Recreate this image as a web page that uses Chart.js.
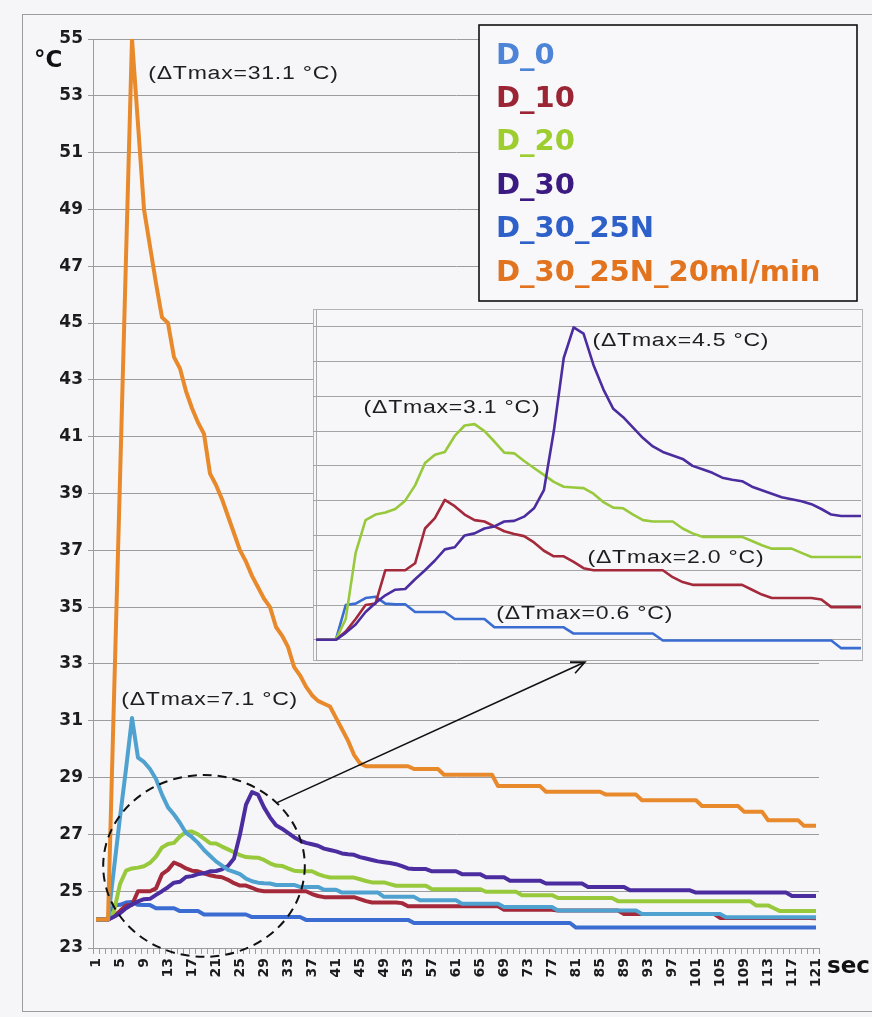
<!DOCTYPE html>
<html>
<head>
<meta charset="utf-8">
<script src="https://cdn.jsdelivr.net/npm/chart.js@4.4.1/dist/chart.umd.min.js"></script>
<style>
  html, body { margin: 0; padding: 0; background: #f6f6f8; }
  #wrap { position: relative; width: 872px; height: 1017px; overflow: hidden; }
  #frame { position: absolute; left: 22px; top: 14px; width: 900px; height: 998px; border: 1px solid #9c9c9c; box-sizing: border-box; }
  #main { position: absolute; left: 0; top: 0; }
  #insetBox { position: absolute; left: 313px; top: 309px; width: 550px; height: 352px; background: #f7f7f9; border: 1px solid #b4b4b4; box-sizing: border-box; }
  #inset { position: absolute; left: 313px; top: 309px; }
</style>
</head>
<body>
<div id="wrap">
  <div id="frame"></div>
  <canvas id="main" width="872" height="1017"></canvas>
  <div id="insetBox"></div>
  <canvas id="inset" width="550" height="352"></canvas>
</div>
<script>
// seconds 1..121
const seconds = Array.from({ length: 121 }, (_, k) => String(k + 1));

const seriesNames = ['D_0', 'D_10', 'D_20', 'D_30', 'D_30_25N', 'D_30_25N_20ml/min'];

const d0 = [
  24.0, 24.0, 24.0, 24.5, 24.52, 24.6, 24.62, 24.52, 24.51, 24.51,
  24.4, 24.4, 24.4, 24.4, 24.3, 24.3, 24.3, 24.3, 24.18, 24.18,
  24.18, 24.18, 24.18, 24.18, 24.18, 24.18, 24.09, 24.09, 24.09, 24.09,
  24.09, 24.09, 24.09, 24.09, 24.09, 23.99, 23.99, 23.99, 23.99, 23.99,
  23.99, 23.99, 23.99, 23.99, 23.99, 23.99, 23.99, 23.99, 23.99, 23.99,
  23.99, 23.99, 23.99, 23.88, 23.88, 23.88, 23.88, 23.88, 23.88, 23.88,
  23.88, 23.88, 23.88, 23.88, 23.88, 23.88, 23.88, 23.88, 23.88, 23.88,
  23.88, 23.88, 23.88, 23.88, 23.88, 23.88, 23.88, 23.88, 23.88, 23.88,
  23.72, 23.72, 23.72, 23.72, 23.72, 23.72, 23.72, 23.72, 23.72, 23.72,
  23.72, 23.72, 23.72, 23.72, 23.72, 23.72, 23.72, 23.72, 23.72, 23.72,
  23.72, 23.72, 23.72, 23.72, 23.72, 23.72, 23.72, 23.72, 23.72, 23.72,
  23.72, 23.72, 23.72, 23.72, 23.72, 23.72, 23.72, 23.72, 23.72, 23.72,
  23.72
];

const d10 = [
  24.0, 24.0, 24.0, 24.12, 24.3, 24.5, 24.52, 25.0, 25.0, 25.0,
  25.1, 25.6, 25.75, 26.01, 25.92, 25.8, 25.72, 25.7, 25.63, 25.56,
  25.52, 25.49, 25.4, 25.28, 25.2, 25.2, 25.12, 25.03, 25.0, 25.0,
  25.0, 25.0, 25.0, 25.0, 25.0, 25.0, 24.9, 24.83, 24.79, 24.79,
  24.79, 24.79, 24.79, 24.79, 24.72, 24.65, 24.6, 24.6, 24.6, 24.6,
  24.6, 24.58, 24.47, 24.47, 24.47, 24.47, 24.47, 24.47, 24.47, 24.47,
  24.47, 24.47, 24.47, 24.47, 24.47, 24.47, 24.47, 24.47, 24.35, 24.35,
  24.35, 24.35, 24.35, 24.35, 24.35, 24.35, 24.35, 24.32, 24.32, 24.32,
  24.32, 24.32, 24.32, 24.32, 24.32, 24.32, 24.32, 24.32, 24.2, 24.2,
  24.2, 24.2, 24.2, 24.2, 24.2, 24.2, 24.2, 24.2, 24.2, 24.2,
  24.2, 24.2, 24.2, 24.2, 24.06, 24.06, 24.06, 24.06, 24.06, 24.06,
  24.06, 24.06, 24.06, 24.06, 24.06, 24.06, 24.06, 24.06, 24.06, 24.06,
  24.05
];

const d20 = [
  24.0, 24.0, 24.0, 24.3, 25.25, 25.72, 25.8, 25.83, 25.88, 26.0,
  26.22, 26.54, 26.66, 26.7, 26.93, 27.08, 27.1, 27.0, 26.85, 26.69,
  26.68, 26.57, 26.47, 26.37, 26.27, 26.2, 26.19, 26.18, 26.1, 25.98,
  25.9, 25.89, 25.8, 25.72, 25.7, 25.7, 25.7, 25.6, 25.53, 25.48,
  25.48, 25.48, 25.48, 25.48, 25.42, 25.36, 25.31, 25.31, 25.31, 25.25,
  25.19, 25.19, 25.19, 25.19, 25.19, 25.19, 25.07, 25.07, 25.07, 25.07,
  25.07, 25.07, 25.07, 25.07, 25.07, 24.98, 24.98, 24.98, 24.98, 24.98,
  24.98, 24.86, 24.86, 24.86, 24.86, 24.86, 24.86, 24.76, 24.76, 24.76,
  24.76, 24.76, 24.76, 24.76, 24.76, 24.76, 24.76, 24.65, 24.65, 24.65,
  24.65, 24.65, 24.65, 24.65, 24.65, 24.65, 24.65, 24.65, 24.65, 24.65,
  24.65, 24.65, 24.65, 24.65, 24.65, 24.65, 24.65, 24.65, 24.65, 24.65,
  24.5, 24.5, 24.5, 24.4, 24.3, 24.3, 24.3, 24.3, 24.3, 24.3,
  24.3
];

const d30 = [
  24.0, 24.0, 24.0, 24.1, 24.22, 24.4, 24.53, 24.64, 24.72, 24.73,
  24.87, 25.0, 25.14, 25.3, 25.33, 25.5, 25.53, 25.6, 25.63, 25.7,
  25.71, 25.77, 25.89, 26.15, 27.0, 28.05, 28.49, 28.4, 27.95, 27.6,
  27.32, 27.2, 27.05, 26.9, 26.78, 26.7, 26.65, 26.6, 26.5, 26.45,
  26.4, 26.33, 26.3, 26.28, 26.2, 26.15, 26.1, 26.05, 26.02, 25.99,
  25.95, 25.88, 25.8, 25.78, 25.78, 25.78, 25.7, 25.7, 25.7, 25.7,
  25.7, 25.6, 25.6, 25.6, 25.6, 25.49, 25.49, 25.49, 25.49, 25.37,
  25.37, 25.37, 25.37, 25.37, 25.37, 25.27, 25.27, 25.27, 25.27, 25.27,
  25.27, 25.27, 25.15, 25.15, 25.15, 25.15, 25.15, 25.15, 25.15, 25.03,
  25.03, 25.03, 25.03, 25.03, 25.03, 25.03, 25.03, 25.03, 25.03, 25.03,
  24.95, 24.95, 24.95, 24.95, 24.95, 24.95, 24.95, 24.95, 24.95, 24.95,
  24.95, 24.95, 24.95, 24.95, 24.95, 24.95, 24.83, 24.83, 24.83, 24.83,
  24.83
];

const d30n = [
  24.0, 24.0, 24.0, 25.8, 27.6, 29.3, 31.1, 29.7, 29.55, 29.3,
  28.95, 28.4, 27.95, 27.7, 27.4, 27.05, 26.9, 26.7, 26.45, 26.25,
  26.05, 25.9, 25.75, 25.68, 25.6, 25.44, 25.35, 25.3, 25.28, 25.27,
  25.22, 25.22, 25.22, 25.22, 25.15, 25.15, 25.15, 25.15, 25.05, 25.05,
  25.05, 24.95, 24.95, 24.95, 24.95, 24.95, 24.95, 24.95, 24.8, 24.8,
  24.8, 24.8, 24.8, 24.8, 24.68, 24.68, 24.68, 24.68, 24.68, 24.68,
  24.68, 24.56, 24.56, 24.56, 24.56, 24.56, 24.56, 24.56, 24.44, 24.44,
  24.44, 24.44, 24.44, 24.44, 24.44, 24.44, 24.44, 24.32, 24.32, 24.32,
  24.32, 24.32, 24.32, 24.32, 24.32, 24.32, 24.32, 24.32, 24.32, 24.32,
  24.32, 24.2, 24.2, 24.2, 24.2, 24.2, 24.2, 24.2, 24.2, 24.2,
  24.2, 24.2, 24.2, 24.2, 24.2, 24.08, 24.08, 24.08, 24.08, 24.08,
  24.08, 24.08, 24.08, 24.08, 24.08, 24.08, 24.08, 24.08, 24.08, 24.08,
  24.08
];

const d30nFlow = [
  24.0, 24.0, 24.0, 31.8, 39.5, 47.3, 55.0, 52.0, 49.0, 47.7,
  46.4, 45.2, 45.0, 43.8, 43.4, 42.6, 42.0, 41.5, 41.1, 39.7,
  39.3, 38.8, 38.2, 37.6, 37.0, 36.6, 36.1, 35.7, 35.3, 35.0,
  34.3, 34.0, 33.6, 32.9, 32.6, 32.2, 31.9, 31.7, 31.6, 31.5,
  31.1, 30.7, 30.3, 29.8, 29.5, 29.4, 29.4, 29.4, 29.4, 29.4,
  29.4, 29.4, 29.4, 29.3, 29.3, 29.3, 29.3, 29.3, 29.1, 29.1,
  29.1, 29.1, 29.1, 29.1, 29.1, 29.1, 29.1, 28.7, 28.7, 28.7,
  28.7, 28.7, 28.7, 28.7, 28.7, 28.5, 28.5, 28.5, 28.5, 28.5,
  28.5, 28.5, 28.5, 28.5, 28.5, 28.4, 28.4, 28.4, 28.4, 28.4,
  28.4, 28.2, 28.2, 28.2, 28.2, 28.2, 28.2, 28.2, 28.2, 28.2,
  28.2, 28.0, 28.0, 28.0, 28.0, 28.0, 28.0, 28.0, 27.8, 27.8,
  27.8, 27.8, 27.5, 27.5, 27.5, 27.5, 27.5, 27.5, 27.3, 27.3,
  27.3
];

// zoomed inset: first 56 seconds, y gridlines every 0.5 °C
const insetLength = 56;
const insetTicks = [24, 24.5, 25, 25.5, 26, 26.5, 27, 27.5, 28, 28.5];

const mainNotes = [
  { text: '(ΔTmax=31.1 °C)', x: 9.7, y: 53.75 },
  { text: '(ΔTmax=7.1 °C)', x: 5.2, y: 31.73 }
];
const insetNotes = [
  { text: '(ΔTmax=4.5 °C)', x: 28.9, y: 28.3 },
  { text: '(ΔTmax=3.1 °C)', x: 5.8, y: 27.33 },
  { text: '(ΔTmax=2.0 °C)', x: 28.4, y: 25.18 },
  { text: '(ΔTmax=0.6 °C)', x: 19.2, y: 24.37 }
];

const allSeries = [d0, d10, d20, d30, d30n, d30nFlow];
const lineColors = ['#3b6cd2', '#a3293b', '#98c93c', '#4b2d9f', '#4fa1d0', '#e8892c'];
const legendColors = ['#4d84d8', '#9b2535', '#9dcd2e', '#3b1b82', '#2e60c9', '#e2731f'];

Chart.defaults.font.family = 'DejaVu Sans, sans-serif';

// annotation text, a bit wider than the normal face, like the scanned original
function drawNote(ctx, text, x, y) {
  const sx = 1.28;
  ctx.save();
  ctx.font = '18px "Liberation Sans"';
  ctx.letterSpacing = '0.6px';
  ctx.fillStyle = '#1e1e1e';
  ctx.textAlign = 'left';
  ctx.textBaseline = 'middle';
  ctx.scale(sx, 1);
  ctx.fillText(text, x / sx, y);
  ctx.restore();
}

const mainDecor = {
  id: 'mainDecor',
  afterDatasetsDraw(chart) {
    const { ctx, chartArea: a, scales: { x, y } } = chart;
    const px = i => x.getPixelForValue(i - 1);

    // dashed circle around the start of the curves
    const cx = px(19), cy = y.getPixelForValue(25.89);
    const rx = px(19 + 16.8) - cx, ry = y.getPixelForValue(25.89 - 3.2) - cy;
    ctx.save();
    ctx.strokeStyle = '#111';
    ctx.lineWidth = 2;
    ctx.setLineDash([9, 6]);
    ctx.beginPath();
    ctx.ellipse(cx, cy, rx, ry, 0, 0, Math.PI * 2);
    ctx.stroke();
    ctx.restore();

    // arrow pointing to the inset
    const x1 = px(31), y1 = y.getPixelForValue(28.1);
    const x2 = px(82.5), y2 = y.getPixelForValue(33.07);
    const ang = Math.atan2(y2 - y1, x2 - x1);
    ctx.save();
    ctx.strokeStyle = '#111';
    ctx.lineWidth = 1.6;
    ctx.beginPath();
    ctx.moveTo(x1, y1);
    ctx.lineTo(x2, y2);
    ctx.moveTo(x2 - 15 * Math.cos(ang - 0.42), y2 - 15 * Math.sin(ang - 0.42));
    ctx.lineTo(x2, y2);
    ctx.lineTo(x2 - 15 * Math.cos(ang + 0.42), y2 - 15 * Math.sin(ang + 0.42));
    ctx.stroke();
    ctx.restore();

    mainNotes.forEach(n => drawNote(ctx, n.text, px(n.x), y.getPixelForValue(n.y)));

    // axis unit labels
    ctx.save();
    ctx.fillStyle = '#111';
    ctx.font = 'bold 23px "DejaVu Sans"';
    ctx.textBaseline = 'middle';
    ctx.fillText('°C', a.left - 59, a.top + 22);
    ctx.font = 'bold 23px "DejaVu Sans"';
    ctx.fillText('sec', a.right + 8, a.bottom + 19);
    ctx.restore();
  },
  afterDraw(chart) {
    const { ctx, chartArea: a } = chart;
    const left = a.right - 340, top = a.top - 14, w = 378, h = 276;
    ctx.save();
    ctx.fillStyle = '#f8f8fa';
    ctx.fillRect(left, top, w, h);
    ctx.strokeStyle = '#111';
    ctx.lineWidth = 1.6;
    ctx.strokeRect(left, top, w, h);
    ctx.font = 'bold 29px "DejaVu Sans"';
    ctx.textBaseline = 'middle';
    chart.data.datasets.forEach((ds, k) => {
      ctx.fillStyle = legendColors[k];
      ctx.fillText(ds.label, left + 17, top + 31 + k * 43.4);
    });
    ctx.restore();
  }
};

new Chart(document.getElementById('main'), {
  type: 'line',
  data: {
    labels: seconds,
    datasets: allSeries.map((data, k) => ({
      label: seriesNames[k],
      data: data,
      borderColor: lineColors[k],
      backgroundColor: lineColors[k],
      borderWidth: 4,
      borderJoinStyle: 'round',
      pointRadius: 0,
      tension: 0,
      fill: false,
      order: allSeries.length - k
    }))
  },
  options: {
    responsive: false,
    animation: false,
    events: [],
    layout: { padding: { left: 22, top: 39, right: 53, bottom: 0 } },
    plugins: { legend: { display: false }, tooltip: { enabled: false } },
    scales: {
      x: {
        offset: true,
        grid: { drawOnChartArea: false, drawTicks: true, tickLength: 6, color: '#9c9c9c', offset: true },
        border: { color: '#9c9c9c' },
        ticks: {
          autoSkip: false, minRotation: 90, maxRotation: 90, padding: 4,
          color: '#1c1c1c', font: { size: 14, weight: 'bold' },
          callback: function (val, idx) { return idx % 4 === 0 ? this.getLabelForValue(val) : ''; }
        },
        afterFit: s => { s.height = 69; }
      },
      y: {
        min: 23, max: 55,
        grid: { color: '#9c9c9c', tickLength: 5 },
        border: { color: '#9c9c9c' },
        ticks: { stepSize: 2, padding: 5, color: '#1c1c1c', font: { size: 17, weight: 'bold' } },
        afterFit: s => { s.width = 71; }
      }
    }
  },
  plugins: [mainDecor]
});

const insetDecor = {
  id: 'insetDecor',
  afterDatasetsDraw(chart) {
    const { ctx, scales: { x, y } } = chart;
    insetNotes.forEach(n => drawNote(ctx, n.text, x.getPixelForValue(n.x - 1), y.getPixelForValue(n.y)));
  }
};

new Chart(document.getElementById('inset'), {
  type: 'line',
  data: {
    labels: seconds.slice(0, insetLength),
    datasets: allSeries.slice(0, 4).map((data, k) => ({
      label: seriesNames[k],
      data: data.slice(0, insetLength),
      borderColor: lineColors[k],
      borderWidth: 2.6,
      borderJoinStyle: 'round',
      pointRadius: 0,
      tension: 0,
      fill: false,
      order: 4 - k
    }))
  },
  options: {
    responsive: false,
    animation: false,
    events: [],
    layout: { padding: { left: 0, top: 1, right: 2, bottom: 0 } },
    plugins: { legend: { display: false }, tooltip: { enabled: false } },
    scales: {
      x: {
        offset: false,
        grid: { display: false },
        ticks: { display: false },
        border: { color: '#a8a8a8' },
        afterFit: s => { s.height = 1; }
      },
      y: {
        min: 23.71, max: 28.74,
        afterBuildTicks: s => { s.ticks = insetTicks.map(v => ({ value: v })); },
        grid: { color: '#a4a4a4', tickLength: 3 },
        border: { color: '#a8a8a8' },
        ticks: { display: false },
        afterFit: s => { s.width = 3; }
      }
    }
  },
  plugins: [insetDecor]
});
</script>
</body>
</html>
